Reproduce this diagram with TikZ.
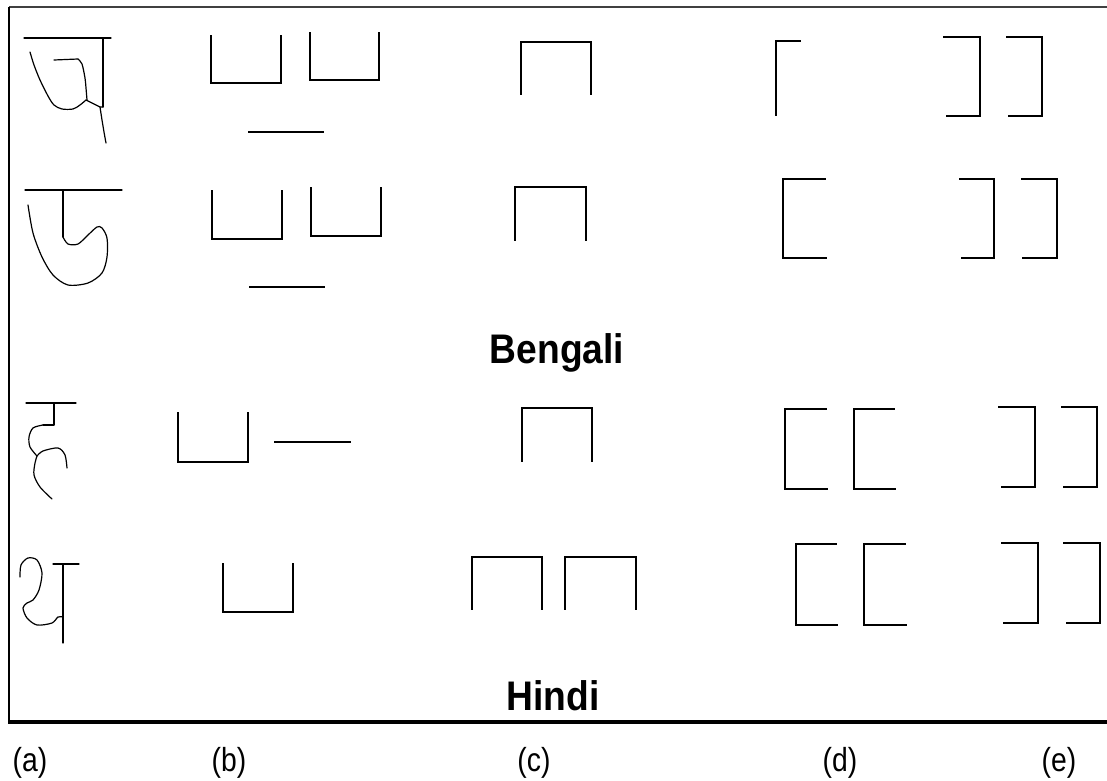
\documentclass[tikz,border=0pt]{standalone}
\usepackage{fontspec}
\setmainfont{Liberation Sans}
\begin{document}
\begin{tikzpicture}[x=0.75pt,y=-0.75pt,
  seg/.style={line width=1.9pt,line cap=rect,line join=miter},
  hand/.style={line width=0.9pt,line cap=round,line join=round},
  frameline/.style={line width=1.5pt,draw=black!75},
  lbl/.style={font=\fontsize{25}{29}\selectfont,xscale=0.85,inner sep=0pt,anchor=base},
  title/.style={font=\fontsize{31}{36}\selectfont\bfseries,xscale=0.9,inner sep=0pt,anchor=base}]
\useasboundingbox (0,0) rectangle (1107,781);
% frame
\draw[frameline] (9,7) -- (1107,7);
\draw[line width=1.1pt] (9,7) -- (9,722);
\draw[line width=2.4pt] (8,722) -- (1107,722);

% ---- Bengali char 1
\draw[hand] (24,38) -- (111,38);
\draw[hand] (103,38) -- (103,107);
\draw[hand] plot[smooth] coordinates {(30,52) (34,65) (40,80) (48,96) (54,105) (62,109) (73,109) (80,105) (86,100)};
\draw[hand] (86,100) -- (100,107) -- (103,107);
\draw[hand] (54,60) -- (78,59);
\draw[hand] plot[smooth] coordinates {(78,59) (82,64) (85,78) (86,88) (87,100)};
\draw[hand] plot[smooth] coordinates {(100,107) (102,120) (104,132) (106,143)};
% ---- Bengali char 2
\draw[hand] (25,190) -- (122,190);
\draw[hand] (63,190) -- (63,237);
\draw[hand] plot[smooth] coordinates {(63,237) (68,244) (78,244) (88,235) (97,227) (102,228) (107,238) (107,257) (102,273) (88,283) (68,285) (53,275) (42,257) (33,233) (28,205)};
% ---- Hindi char 1
\draw[hand] (26,403) -- (76,403);
\draw[hand] (54,403) -- (54,425) -- (43,425);
\draw[hand] plot[smooth] coordinates {(43,425) (33,428) (29,437) (30,447) (37,456)};
\draw[hand] plot[smooth] coordinates {(37,456) (43,451) (58,448) (65,455) (67,468)};
\draw[hand] plot[smooth] coordinates {(37,456) (35,463) (34,475) (40,487) (52,499)};
% ---- Hindi char 2
\draw[hand] (53,564) -- (79,564);
\draw[hand] (63,564) -- (63,643);
\draw[hand] plot[smooth] coordinates {(63,617) (58,617) (52,623) (37,625) (27,618) (23,608) (27,603) (33,600) (39,590) (42,573) (37,560) (28,558) (21,565) (20,577)};

% ---- column (b)
\draw[seg] (211,36) -- (211,83) -- (281,83) -- (281,36);
\draw[seg] (310,33) -- (310,80) -- (379,80) -- (379,33);
\draw[seg] (249,132) -- (323,132);
\draw[seg] (212,191) -- (212,239) -- (282,239) -- (282,191);
\draw[seg] (311,188) -- (311,236) -- (381,236) -- (381,188);
\draw[seg] (250,287) -- (324,287);
\draw[seg] (178,413) -- (178,462) -- (248,462) -- (248,413);
\draw[seg] (275,442) -- (350,442);
\draw[seg] (223,564) -- (223,612) -- (293,612) -- (293,564);

% ---- column (c)
\draw[seg] (521,94) -- (521,42) -- (591,42) -- (591,94);
\draw[seg] (515,240) -- (515,187) -- (586,187) -- (586,240);
\draw[seg] (522,461) -- (522,408) -- (592,408) -- (592,461);
\draw[seg] (472,609) -- (472,557) -- (542,557) -- (542,609);
\draw[seg] (565,609) -- (565,557) -- (636,557) -- (636,609);

% ---- column (d)
\draw[seg] (800,41) -- (776,41) -- (776,115);
\draw[seg] (825,179) -- (783,179) -- (783,258) -- (826,258);
\draw[seg] (826,409) -- (785,409) -- (785,489) -- (827,489);
\draw[seg] (894,409) -- (854,409) -- (854,489) -- (895,489);
\draw[seg] (836,544) -- (796,544) -- (796,625) -- (837,625);
\draw[seg] (905,544) -- (864,544) -- (864,625) -- (906,625);

% ---- column (e)
\draw[seg] (944,37) -- (980,37) -- (980,116) -- (947,116);
\draw[seg] (1007,37) -- (1042,37) -- (1042,116) -- (1009,116);
\draw[seg] (960,179) -- (994,179) -- (994,258) -- (962,258);
\draw[seg] (1022,179) -- (1057,179) -- (1057,258) -- (1023,258);
\draw[seg] (999,407) -- (1035,407) -- (1035,487) -- (1002,487);
\draw[seg] (1062,407) -- (1097,407) -- (1097,487) -- (1064,487);
\draw[seg] (1002,543) -- (1038,543) -- (1038,623) -- (1004,623);
\draw[seg] (1064,543) -- (1100,543) -- (1100,623) -- (1067,623);

% ---- titles
\node[title] (bengali) at (557,363) {Bengali};
\node[title] (hindi) at (553,710) {Hindi};

% ---- column labels
\node[lbl] (la) at (30,771) {(a)};
\node[lbl] (lb) at (229,771) {(b)};
\node[lbl] (lc) at (534,771) {(c)};
\node[lbl] (ld) at (840,771) {(d)};
\node[lbl] (le) at (1059,771) {(e)};
\end{tikzpicture}
\end{document}
